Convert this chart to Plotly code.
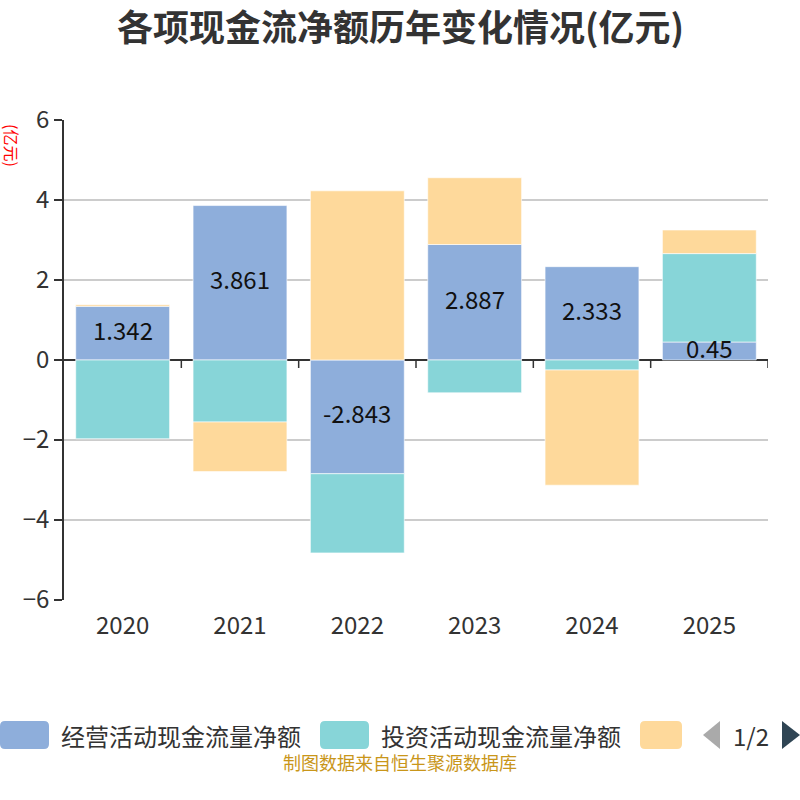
import plotly.graph_objects as go

years = ["2020", "2021", "2022", "2023", "2024", "2025"]
operating = [1.342, 3.861, -2.843, 2.887, 2.333, 0.45]
investing = [-1.97, -1.55, -1.98, -0.82, -0.25, 2.21]
financing = [0.04, -1.24, 4.23, 1.67, -2.88, 0.59]
series_names = ["经营活动现金流量净额", "投资活动现金流量净额", "筹资活动现金流量净额"]
colors = ["#8eaedb", "#87d5d8", "#fed99b"]
y_ticks = [-6, -4, -2, 0, 2, 4, 6]

FONT = "Noto Sans CJK SC, Noto Sans, sans-serif"
W, H = 800, 800
L, R, T, B = 64, 32, 120, 200
PW, PH = W - L - R, H - T - B


def px(x):
    return (x - L) / PW


def py(y):
    return (H - B - y) / PH


fig = go.Figure()
fig.add_trace(go.Bar(
    x=years, y=operating, name=series_names[0], marker_color=colors[0],
    marker_line=dict(color="rgba(255,255,255,0.6)", width=1),
))
fig.add_trace(go.Bar(
    x=years, y=investing, name=series_names[1], marker_color=colors[1],
    marker_line=dict(color="rgba(255,255,255,0.6)", width=1),
))
fig.add_trace(go.Bar(
    x=years, y=financing, name=series_names[2], marker_color=colors[2],
    marker_line=dict(color="rgba(255,255,255,0.6)", width=1),
))

shapes = []
# tick marks on zero line at category boundaries
for i in range(len(years)):
    shapes.append(dict(type="line", xref="x", yref="y", x0=i + 0.5, x1=i + 0.5,
                       y0=0, y1=-0.2, line=dict(color="#333", width=1.5)))


def rrect(x0, y0, x1, y1, r=5):
    return (f"M{px(x0 + r)},{py(y0)} L{px(x1 - r)},{py(y0)} Q{px(x1)},{py(y0)} {px(x1)},{py(y0 + r)} "
            f"L{px(x1)},{py(y1 - r)} Q{px(x1)},{py(y1)} {px(x1 - r)},{py(y1)} "
            f"L{px(x0 + r)},{py(y1)} Q{px(x0)},{py(y1)} {px(x0)},{py(y1 - r)} "
            f"L{px(x0)},{py(y0 + r)} Q{px(x0)},{py(y0)} {px(x0 + r)},{py(y0)} Z")


ly0, ly1 = 721, 749
for (x0, x1), c in zip([(0, 49), (320, 369), (640, 682)], colors):
    shapes.append(dict(type="path", xref="paper", yref="paper", path=rrect(x0, ly0, x1, ly1),
                       fillcolor=c, line=dict(width=0)))
# pager arrows
shapes.append(dict(type="path", xref="paper", yref="paper",
                   path=f"M{px(720)},{py(721)} L{px(703)},{py(735)} L{px(720)},{py(749)} Z",
                   fillcolor="#aaaaaa", line=dict(width=0)))
shapes.append(dict(type="path", xref="paper", yref="paper",
                   path=f"M{px(782)},{py(721)} L{px(800)},{py(735)} L{px(782)},{py(749)} Z",
                   fillcolor="#2f4554", line=dict(width=0)))

annotations = [
    dict(text="<b>各项现金流净额历年变化情况(亿元)</b>", xref="paper", yref="paper",
         x=px(400), y=py(25), xanchor="center", yanchor="middle", showarrow=False,
         font=dict(size=36, color="#333", family=FONT)),
    dict(text="(亿元)", xref="paper", yref="paper", x=px(12), y=py(145),
         xanchor="center", yanchor="middle", textangle=90, showarrow=False,
         borderpad=0,
         font=dict(size=16, color="red", family=FONT)),
    dict(text=series_names[0], xref="paper", yref="paper", x=px(59), y=py(735),
         xanchor="left", yanchor="middle", showarrow=False,
         font=dict(size=24, color="#333", family=FONT)),
    dict(text=series_names[1], xref="paper", yref="paper", x=px(379), y=py(735),
         xanchor="left", yanchor="middle", showarrow=False,
         font=dict(size=24, color="#333", family=FONT)),
    dict(text="1/2", xref="paper", yref="paper", x=px(751), y=py(735),
         xanchor="center", yanchor="middle", showarrow=False,
         font=dict(size=24, color="#333", family=FONT)),
    dict(text="制图数据来自恒生聚源数据库", xref="paper", yref="paper", x=px(400), y=py(762),
         xanchor="center", yanchor="middle", showarrow=False,
         font=dict(size=18, color="#c9961a", family=FONT)),
]
# bar value labels (centre of operating bars)
for i, v in enumerate(operating):
    annotations.append(dict(text=str(v), xref="x", yref="y", x=i, y=v / 2,
                            xanchor="center", yanchor="middle", showarrow=False, yshift=4,
                            font=dict(size=24, color="#111", family=FONT)))

fig.update_layout(
    width=W, height=H,
    margin=dict(l=L, r=R, t=T, b=B, pad=0),
    paper_bgcolor="white", plot_bgcolor="white",
    barmode="relative", bargap=0.2,
    showlegend=False,
    font=dict(family=FONT, color="#333"),
    shapes=shapes, annotations=annotations,
    xaxis=dict(type="category", showline=False, ticks="", showgrid=False,
               tickfont=dict(size=24, color="#333"), ticklabelstandoff=9,
               range=[-0.5, 5.5]),
    yaxis=dict(range=[-6, 6], tickvals=y_ticks, showgrid=True, gridcolor="#cccccc",
               gridwidth=1.5, showline=True, linecolor="#333", linewidth=1.5,
               ticks="outside", ticklen=8, tickcolor="#333", tickwidth=1.5,
               zeroline=True, zerolinecolor="#333", zerolinewidth=1.5,
               tickfont=dict(size=24, color="#333")),
)

fig.write_html("out.html")
